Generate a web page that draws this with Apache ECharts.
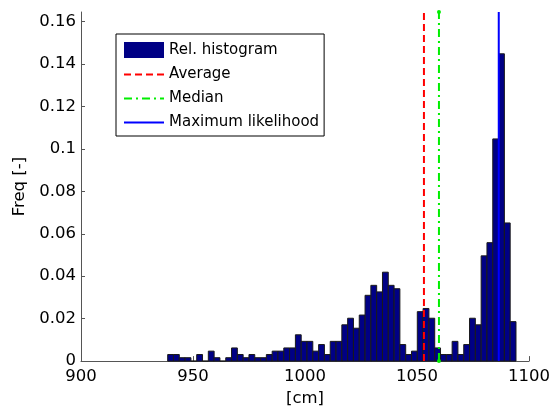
<!DOCTYPE html>
<html>
<head>
<meta charset="utf-8">
<script src="https://cdn.jsdelivr.net/npm/echarts@6/dist/echarts.min.js"></script>
<style>
html,body{margin:0;padding:0;background:#fff;}
#c{width:559px;height:412px;}
</style>
</head>
<body>
<div id="c"></div>
<script>
// Histogram bins (cm)
var binStart = 938.7;
var binWidth = 2.5915;
var freq = [
  0.0031, 0.0031, 0.0016, 0.0016, 0, 0.0031, 0, 0.0047, 0.0016, 0,
  0.0016, 0.0062, 0.0031, 0.0016, 0.0031, 0.0016, 0.0016, 0.0031, 0.0047, 0.0047,
  0.0062, 0.0062, 0.0124, 0.0093, 0.0093, 0.0047, 0.0078, 0.0031, 0.0093, 0.0093,
  0.0171, 0.0202, 0.0155, 0.0217, 0.0310, 0.0357, 0.0326, 0.0419, 0.0357, 0.0341,
  0.0078, 0.0031, 0.0047, 0.0233, 0.0248, 0.0202, 0.0062, 0.0031, 0.0031, 0.0093,
  0.0031, 0.0078, 0.0202, 0.0171, 0.0496, 0.0558, 0.1047, 0.1448, 0.0651, 0.0186
];
var averageX = 1053.1;
var medianX = 1059.8;
var maxLikX = 1086.5;
var yMax = 0.1645;
var yTicks = [0, 0.02, 0.04, 0.06, 0.08, 0.1, 0.12, 0.14, 0.16];
var seriesNames = ['Rel. histogram', 'Average', 'Median', 'Maximum likelihood'];

var histData = freq.map(function (v, i) {
  return [binStart + i * binWidth, binStart + (i + 1) * binWidth, v];
});

var FONT = 'DejaVu Sans';
var hidden = {color: 'rgba(0,0,0,0)', borderWidth: 0, opacity: 0};
var chart = echarts.init(document.getElementById('c'), null, {renderer: 'canvas'});
chart.setOption({
  animation: false,
  backgroundColor: '#ffffff',
  grid: {left: 81, right: 30, top: 12, bottom: 46, containLabel: false},
  legend: {
    orient: 'vertical',
    left: 116, top: 34,
    padding: [8, 5, 6, 7],
    itemGap: 9,
    itemWidth: 40,
    itemHeight: 16,
    itemTextGap: 5,
    backgroundColor: '#ffffff',
    borderColor: '#000000',
    borderWidth: 1,
    textStyle: {fontFamily: FONT, fontSize: 15, color: '#000'},
    data: [
      {name: seriesNames[0], icon: 'rect'},
      {name: seriesNames[1], itemStyle: hidden},
      {name: seriesNames[2], itemStyle: hidden},
      {name: seriesNames[3], itemStyle: hidden}
    ]
  },
  xAxis: {
    type: 'value', min: 900, max: 1100, interval: 50,
    name: '[cm]', nameLocation: 'middle', nameGap: 26,
    nameTextStyle: {fontFamily: FONT, fontSize: 16.5, color: '#000'},
    splitLine: {show: false},
    axisLine: {lineStyle: {color: '#555', width: 1}},
    axisTick: {inside: true, length: 5, lineStyle: {color: '#555'}},
    axisLabel: {fontFamily: FONT, fontSize: 16.5, color: '#000', margin: 7,
      formatter: function (v) { return String(v); }}
  },
  yAxis: {
    type: 'value', min: 0, max: yMax,
    name: 'Freq [-]', nameLocation: 'middle', nameGap: 47, nameRotate: 90,
    nameTextStyle: {fontFamily: FONT, fontSize: 16.5, color: '#000'},
    splitLine: {show: false},
    axisLine: {show: true, lineStyle: {color: '#555', width: 1}},
    axisTick: {show: true, inside: true, length: 4, customValues: yTicks, lineStyle: {color: '#555'}},
    axisLabel: {fontFamily: FONT, fontSize: 16.5, color: '#000', margin: 5, customValues: yTicks}
  },
  series: [
    {
      name: seriesNames[0],
      type: 'custom',
      itemStyle: {color: '#000085'},
      encode: {x: [0, 1], y: 2},
      renderItem: function (params, api) {
        var p0 = api.coord([api.value(0), api.value(2)]);
        var p1 = api.coord([api.value(1), 0]);
        return {
          type: 'rect',
          shape: {x: p0[0], y: p0[1], width: p1[0] - p0[0], height: p1[1] - p0[1]},
          style: {fill: '#000085', stroke: '#1a1a1a', lineWidth: 1}
        };
      },
      data: histData,
      z: 2
    },
    {
      name: seriesNames[1],
      type: 'line',
      data: [[averageX, 0], [averageX, yMax]],
      symbol: 'none',
      lineStyle: {color: '#ff0000', width: 2, type: [7, 4]},
      itemStyle: {color: '#ff0000'},
      z: 5
    },
    {
      name: seriesNames[2],
      type: 'line',
      data: [[medianX, 0], [medianX, yMax]],
      symbol: 'circle',
      symbolSize: 4,
      lineStyle: {color: '#00ee00', width: 2, type: [8, 4, 2, 4]},
      itemStyle: {color: '#00ee00'},
      z: 5
    },
    {
      name: seriesNames[3],
      type: 'line',
      data: [[maxLikX, 0], [maxLikX, yMax]],
      symbol: 'none',
      lineStyle: {color: '#0000ff', width: 2},
      itemStyle: {color: '#0000ff'},
      z: 5
    }
  ]
});
</script>
</body>
</html>
